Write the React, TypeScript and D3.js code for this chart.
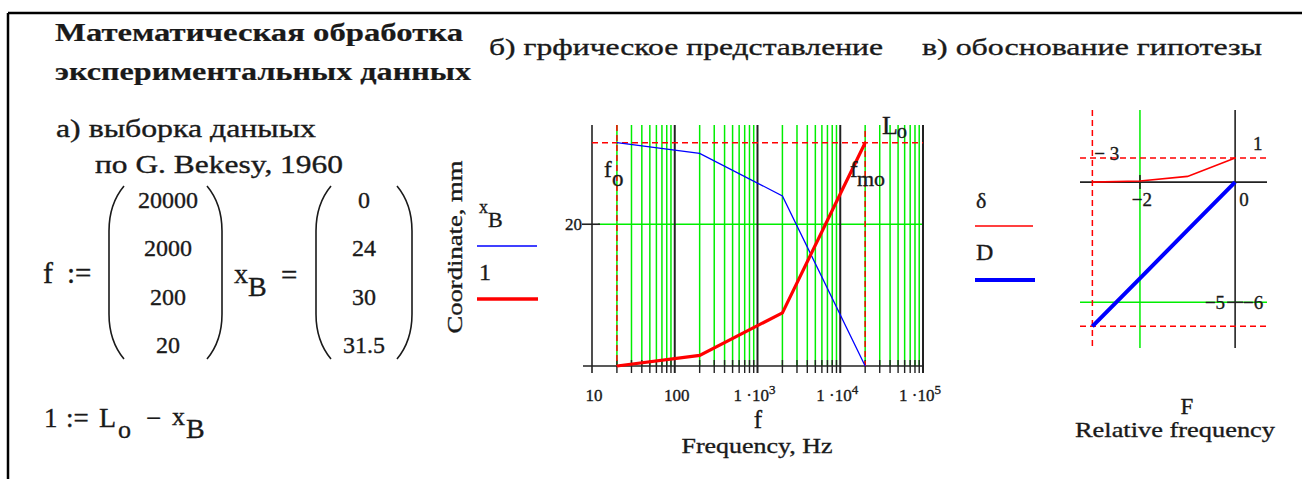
import { useEffect, useRef } from 'react';
import { select, scaleLog, scaleLinear, scalePoint, line } from 'd3';

// samples (G. Bekesy, 1960)
const freqHz = [20000, 2000, 200, 20];
const xB = [0, 24, 30, 31.5];
const Lo = 31.5;
const lenL = [31.5, 7.5, 1.5, 0]; // l = Lo - xB
const xTickLabels = ['10', '100', '1 ·10|3', '1 ·10|4', '1 ·10|5'];

// hypothesis panel (F = lg f/fmo)
const relF = [0, -1, -2, -3];
const delta = [1, 0.238, 0.048, 0];
const Dval = [0, -2, -4, -6];

const FONT = '"Liberation Serif", "Times New Roman", serif';
const INK = '#1a1a1a';
const GREEN = '#00ee00';

export default function App() {
  const svgRef = useRef<SVGSVGElement | null>(null);

  useEffect(() => {
    if (!svgRef.current) return;
    const svg = select(svgRef.current);
    svg.selectAll('*').remove();

    const txt = (
      x: number,
      y: number,
      s: string,
      size: number,
      opts: { anchor?: string; weight?: string; len?: number; fill?: string } = {}
    ) => {
      const t = svg
        .append('text')
        .attr('x', x)
        .attr('y', y)
        .attr('font-family', FONT)
        .attr('font-size', size)
        .attr('fill', opts.fill ?? INK)
        .attr('stroke', opts.fill ?? INK)
        .attr('stroke-width', opts.weight === 'bold' ? 0.2 : 0.35)
        .attr('text-anchor', opts.anchor ?? 'start')
        .attr('font-weight', opts.weight ?? 'normal')
        .text(s);
      if (opts.len) t.attr('textLength', opts.len).attr('lengthAdjust', 'spacingAndGlyphs');
      return t;
    };

    // frame
    svg.append('line').attr('x1', 8).attr('x2', 1302).attr('y1', 13).attr('y2', 13).attr('stroke', '#000').attr('stroke-width', 2.5);
    svg.append('line').attr('x1', 8).attr('x2', 8).attr('y1', 13).attr('y2', 479).attr('stroke', '#000').attr('stroke-width', 2.5);

    // headings
    txt(55, 41, 'Математическая обработка', 25, { weight: 'bold', len: 408 });
    txt(55, 80, 'экспериментальных данных', 25, { weight: 'bold', len: 416 });
    txt(489, 55, 'б) грфическое представление', 24, { len: 394 });
    txt(922, 55, 'в) обоснование гипотезы', 24, { len: 340 });

    // section a
    txt(56, 137, 'а) выборка даныых', 25, { len: 260 });
    txt(95, 173, 'по G. Bekesy, 1960', 25, { len: 248 });

    txt(43, 283, 'f', 30);
    txt(67, 283, ':=', 29);
    txt(234, 283, 'x', 28);
    txt(248, 296, 'B', 28);
    txt(281, 285, '=', 29);

    const rowY = scalePoint<number>().domain([0, 1, 2, 3]).range([200, 345]);
    const paren = (x: number, top: number, bot: number, dir: number) => {
      const w = 15 * dir;
      svg
        .append('path')
        .attr('d', `M${x + w},${top} Q${x},${top + 18} ${x},${top + 45} L${x},${bot - 45} Q${x},${bot - 18} ${x + w},${bot}`)
        .attr('fill', 'none')
        .attr('stroke', INK)
        .attr('stroke-width', 1.6);
    };
    paren(109, 186, 359, 1);
    paren(222, 186, 359, -1);
    paren(316, 186, 359, 1);
    paren(412, 186, 359, -1);
    freqHz.forEach((v, i) => txt(168, rowY(i)! + 8, String(v), 24, { anchor: 'middle' }));
    xB.forEach((v, i) => txt(364, rowY(i)! + 8, String(v), 24, { anchor: 'middle' }));

    txt(44, 427, '1', 27);
    txt(66, 427, ':=', 27);
    txt(99, 427, 'L', 28);
    txt(118, 438, 'o', 26);
    txt(146, 427, '−', 27);
    txt(172, 425, 'x', 26);
    txt(186, 438, 'B', 28);

    // ---------- chart b ----------
    const x1 = scaleLog().domain([10, 1e5]).range([592, 923]);
    const y1 = scaleLinear().domain([0, 34]).range([366, 125]);
    const g1 = svg.append('g');
    const ticks1 = x1.ticks();
    const isMajor = (v: number) => Math.abs(Math.log10(v) - Math.round(Math.log10(v))) < 1e-9;

    g1.selectAll('line.minor')
      .data(ticks1.filter((v) => !isMajor(v)))
      .join('line')
      .attr('x1', (d) => x1(d))
      .attr('x2', (d) => x1(d))
      .attr('y1', y1.range()[1])
      .attr('y2', y1.range()[0])
      .attr('stroke', GREEN)
      .attr('stroke-width', 1.5);
    g1.append('line')
      .attr('x1', 598).attr('x2', x1(1e5))
      .attr('y1', y1(20)).attr('y2', y1(20))
      .attr('stroke', GREEN).attr('stroke-width', 1.5);
    g1.selectAll('line.major')
      .data(ticks1.filter((v) => isMajor(v) && v > 10))
      .join('line')
      .attr('x1', (d) => x1(d))
      .attr('x2', (d) => x1(d))
      .attr('y1', y1.range()[1])
      .attr('y2', y1.range()[0] + 7)
      .attr('stroke', '#222')
      .attr('stroke-width', 2);
    // axes
    g1.append('line').attr('x1', x1(10)).attr('x2', x1(10)).attr('y1', y1.range()[1]).attr('y2', y1(0) + 7).attr('stroke', '#222').attr('stroke-width', 1.6);
    g1.append('line').attr('x1', x1(10) - 9).attr('x2', x1(1e5)).attr('y1', y1(0)).attr('y2', y1(0)).attr('stroke', '#222').attr('stroke-width', 1.6);
    g1.selectAll('line.tick')
      .data(ticks1.filter((v) => !isMajor(v)))
      .join('line')
      .attr('x1', (d) => x1(d))
      .attr('x2', (d) => x1(d))
      .attr('y1', y1(0) - 6)
      .attr('y2', y1(0) + 7)
      .attr('stroke', '#222')
      .attr('stroke-width', 1.4);
    g1.append('line').attr('x1', x1(10) - 10).attr('x2', x1(10) + 8).attr('y1', y1(20)).attr('y2', y1(20)).attr('stroke', '#222').attr('stroke-width', 1.6);
    txt(x1(10) - 10, y1(20) + 6, '20', 17, { anchor: 'end' });

    ticks1.filter(isMajor).forEach((v, i) => {
      const [base, sup] = xTickLabels[i].split('|');
      const t = txt(x1(v) + (sup ? -3 : 2), 401, base, 17, { anchor: 'middle' });
      if (sup) t.append('tspan').attr('dy', -7).attr('font-size', 13).text(sup);
    });

    // markers
    const dash = (x1p: number, y1p: number, x2p: number, y2p: number) =>
      svg.append('line').attr('x1', x1p).attr('y1', y1p).attr('x2', x2p).attr('y2', y2p)
        .attr('stroke', '#ff0000').attr('stroke-width', 1.5).attr('stroke-dasharray', '6,4');
    dash(x1(10), y1(Lo), x1(1e5), y1(Lo));
    dash(x1(20), y1.range()[1], x1(20), y1(0));
    dash(x1(20000), y1.range()[1] + 6, x1(20000), y1(0));

    const lineB = line<number>().x((_, i) => x1(freqHz[i])).y((d) => y1(d));
    svg.append('path').attr('d', lineB(xB)).attr('fill', 'none').attr('stroke', '#0000ff').attr('stroke-width', 1.3);
    svg.append('path').attr('d', lineB(lenL)).attr('fill', 'none').attr('stroke', '#ff0000').attr('stroke-width', 3.2);

    txt(604, 177, 'f', 23);
    txt(612, 186, 'o', 23);
    txt(850, 177, 'f', 23);
    txt(857, 186, 'mo', 22);
    txt(882, 134, 'L', 26);
    txt(897, 138, 'o', 20);

    txt(0, 0, 'Coordinate, mm', 22, { anchor: 'middle', len: 173 }).attr('transform', 'translate(462,247) rotate(-90)');
    txt(479, 213, 'x', 18);
    txt(488, 227, 'B', 22);
    svg.append('line').attr('x1', 477).attr('x2', 537).attr('y1', 246).attr('y2', 246).attr('stroke', '#0000ff').attr('stroke-width', 1.5);
    txt(479, 280, '1', 24);
    svg.append('line').attr('x1', 477).attr('x2', 538).attr('y1', 299).attr('y2', 299).attr('stroke', '#ff0000').attr('stroke-width', 3.5);

    txt(758, 428, 'f', 25, { anchor: 'middle' });
    txt(757, 453, 'Frequency, Hz', 22, { anchor: 'middle', len: 151 });

    // ---------- chart c ----------
    const x2 = scaleLinear().domain([-3.26, 0.67]).range([1080, 1267]);
    const y2 = scaleLinear().domain([-6.9, 3]).range([348, 110]);
    const [l2, r2] = x2.range();
    const [b2, t2] = y2.range();
    svg.append('line').attr('x1', x2(-2)).attr('x2', x2(-2)).attr('y1', t2).attr('y2', b2).attr('stroke', GREEN).attr('stroke-width', 1.5);
    svg.append('line').attr('x1', l2).attr('x2', r2).attr('y1', y2(-5)).attr('y2', y2(-5)).attr('stroke', GREEN).attr('stroke-width', 1.5);
    svg.append('line').attr('x1', l2).attr('x2', r2).attr('y1', y2(0)).attr('y2', y2(0)).attr('stroke', '#222').attr('stroke-width', 1.6);
    svg.append('line').attr('x1', x2(0)).attr('x2', x2(0)).attr('y1', t2).attr('y2', b2).attr('stroke', '#222').attr('stroke-width', 1.6);
    svg.append('line').attr('x1', x2(-2)).attr('x2', x2(-2)).attr('y1', y2(0) - 7).attr('y2', y2(0) + 7).attr('stroke', '#222').attr('stroke-width', 1.6);
    svg.append('line').attr('x1', x2(0) - 8).attr('x2', x2(0) + 8).attr('y1', y2(-5)).attr('y2', y2(-5)).attr('stroke', '#222').attr('stroke-width', 1.6);

    dash(x2(-3), t2, x2(-3), b2);
    dash(l2, y2(1), r2, y2(1));
    dash(l2, y2(-6), r2, y2(-6));

    const line2 = line<number>().x((_, i) => x2(relF[i])).y((d) => y2(d));
    svg.append('path').attr('d', line2(delta)).attr('fill', 'none').attr('stroke', '#ff0000').attr('stroke-width', 1.6);
    svg.append('path').attr('d', line2(Dval)).attr('fill', 'none').attr('stroke', '#0000ff').attr('stroke-width', 4);

    txt(x2(-2) + 2, 206, '−2', 19, { anchor: 'middle' });
    txt(x2(0) + 9, 206, '0', 19, { anchor: 'middle' });
    txt(x2(0) - 10, 309, '−5', 19, { anchor: 'end' });
    txt(x2(0) + 8, 309, '−6', 19);
    txt(1253, 150, '1', 19);
    txt(x2(-3) + 2, 160, '− 3', 19);

    txt(976, 208, 'δ', 22);
    svg.append('line').attr('x1', 975).attr('x2', 1033).attr('y1', 226).attr('y2', 226).attr('stroke', '#ff0000').attr('stroke-width', 1.6);
    txt(976, 260, 'D', 24);
    svg.append('line').attr('x1', 975).attr('x2', 1035).attr('y1', 280).attr('y2', 280).attr('stroke', '#0000ff').attr('stroke-width', 4);

    txt(1187, 414, 'F', 23, { anchor: 'middle' });
    txt(1175, 437, 'Relative frequency', 22, { anchor: 'middle', len: 200 });
  }, []);

  return (
    <svg
      ref={svgRef}
      width={1302}
      height={479}
      style={{ position: 'absolute', left: 0, top: 0, background: '#fff' }}
    />
  );
}
